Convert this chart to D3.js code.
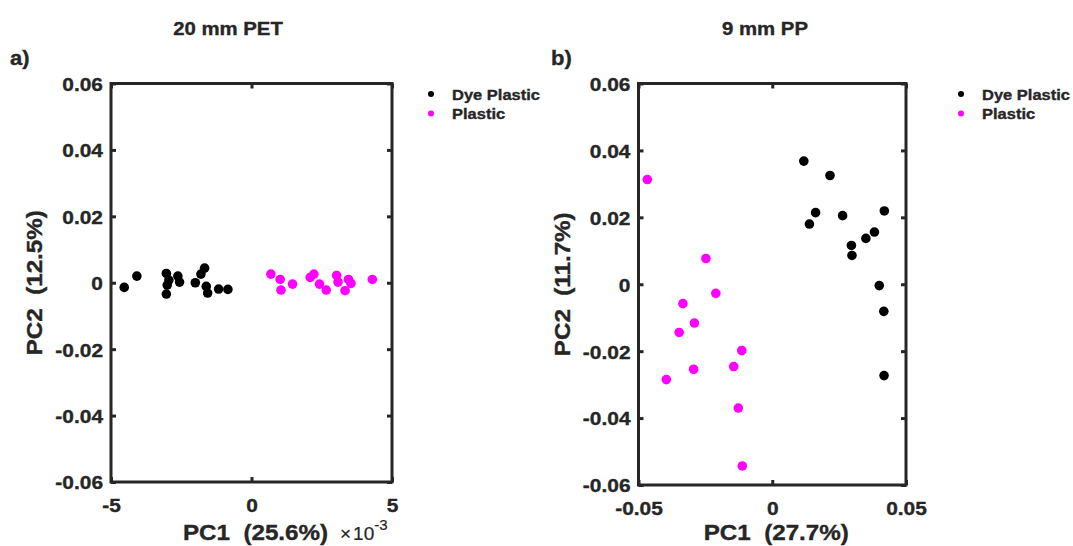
<!DOCTYPE html>
<html>
<head>
<meta charset="utf-8">
<script src="https://cdn.jsdelivr.net/npm/d3@7"></script>
<style>
  body { margin: 0; background: #fff; }
  text { font-family: "Liberation Sans", Arial, sans-serif; font-weight: bold; fill: #262626; stroke: #262626; stroke-width: 0.35px; white-space: pre; }
</style>
</head>
<body>
<div id="chart-area"></div>
<script>
// ---- data ----
// panel a) 20 mm PET, PC1 in units of 1e-3
var petDyeX = [-4.53, -4.08, -3.03, -2.94, -2.62, -2.56, -3.00, -3.03, -1.67, -1.80, -2.00, -1.61, -1.56, -1.17, -0.84];
var petDyeY = [-0.0014, 0.0020, 0.0028, 0.0008, 0.0020, 0.0002, -0.0007, -0.0034, 0.0044, 0.0026, 0.0000, -0.0011, -0.0031, -0.0019, -0.0020];
var petPlasticX = [0.69, 1.02, 1.05, 1.46, 2.22, 2.09, 2.42, 2.66, 3.03, 3.08, 3.45, 3.54, 3.33, 4.30];
var petPlasticY = [0.0026, 0.0010, -0.0022, -0.0004, 0.0026, 0.0016, -0.0004, -0.0022, 0.0022, 0.0002, 0.0010, -0.0002, -0.0024, 0.0010];

// panel b) 9 mm PP
var ppDyeX = [0.0118, 0.0216, 0.0162, 0.0139, 0.0263, 0.0419, 0.0296, 0.0298, 0.0350, 0.0382, 0.0400, 0.0417, 0.0418];
var ppDyeY = [0.0368, 0.0325, 0.0214, 0.0180, 0.0205, 0.0219, 0.0116, 0.0086, 0.0137, 0.0156, -0.0004, -0.0081, -0.0273];
var ppPlasticX = [-0.0467, -0.0248, -0.0211, -0.0334, -0.0291, -0.0348, -0.0114, -0.0294, -0.0144, -0.0396, -0.0127, -0.0112];
var ppPlasticY = [0.0313, 0.0077, -0.0027, -0.0058, -0.0116, -0.0144, -0.0198, -0.0254, -0.0246, -0.0285, -0.0370, -0.0543];

var yTicks = [-0.06, -0.04, -0.02, 0, 0.02, 0.04, 0.06];
var yTickLabels = ["-0.06", "-0.04", "-0.02", "0", "0.02", "0.04", "0.06"];
var petXTicks = [-5, 0, 5];
var petXTickLabels = ["-5", "0", "5"];
var ppXTicks = [-0.05, 0, 0.05];
var ppXTickLabels = ["-0.05", "0", "0.05"];

var legendNames = ["Dye Plastic", "Plastic"];
var colors = ["#000000", "#ff00ff"];

var width = 1073, height = 546;
var sx = 1.1; // text in the picture is a bit wider than Arial

var svg = d3.select("#chart-area").append("svg")
  .attr("width", width)
  .attr("height", height);

function zip(xs, ys) { return xs.map(function(d, i) { return [d, ys[i]]; }); }

// stretched text helper
function label(parent, x, y, txt, size, anchor, rot) {
  return parent.append("text")
    .attr("transform", "translate(" + x + "," + y + ")" + (rot ? " rotate(" + rot + ")" : "") + " scale(" + sx + ",1)")
    .attr("font-size", size + "px")
    .attr("text-anchor", anchor || "start")
    .text(txt);
}

function panel(opt) {
  var x = d3.scaleLinear().domain(opt.xDomain).range([opt.left, opt.right]);
  var y = d3.scaleLinear().domain([-0.06, 0.06]).range([opt.bottom, opt.top]);

  var g = svg.append("g");

  // ticks on all four sides, pointing inward
  var left = g.append("g").attr("transform", "translate(" + opt.left + ",0)")
    .call(d3.axisLeft(y).tickValues(yTicks).tickSize(-5).tickSizeOuter(0).tickPadding(8)
      .tickFormat(function(d, i) { return yTickLabels[i]; }));
  var bottom = g.append("g").attr("transform", "translate(0," + opt.bottom + ")")
    .call(d3.axisBottom(x).tickValues(opt.xTicks).tickSize(-5).tickSizeOuter(0)
      .tickFormat(function(d, i) { return opt.xTickLabels[i]; }));
  g.append("g").attr("transform", "translate(" + opt.right + ",0)")
    .call(d3.axisRight(y).tickValues(yTicks).tickSize(-5).tickSizeOuter(0).tickFormat(""));
  g.append("g").attr("transform", "translate(0," + opt.top + ")")
    .call(d3.axisTop(x).tickValues(opt.xTicks).tickSize(-5).tickSizeOuter(0).tickFormat(""));

  g.selectAll(".domain").remove();
  g.selectAll(".tick line").attr("stroke", "#262626").attr("stroke-width", 3);

  left.selectAll("text")
    .attr("x", null).attr("dy", "0.36em")
    .attr("transform", "translate(-8,0) scale(" + sx + ",1)")
    .attr("font-size", "19px").attr("font-family", null).attr("fill", "#262626");
  bottom.selectAll("text")
    .attr("y", null).attr("dy", null)
    .attr("transform", "translate(0,30) scale(" + sx + ",1)")
    .attr("font-size", "19px").attr("font-family", null).attr("fill", "#262626");

  // box
  g.append("rect")
    .attr("x", opt.left).attr("y", opt.top)
    .attr("width", opt.right - opt.left).attr("height", opt.bottom - opt.top)
    .attr("fill", "none").attr("stroke", "#262626").attr("stroke-width", 3);

  // points
  opt.series.forEach(function(s, k) {
    g.selectAll(null).data(s).enter().append("circle")
      .attr("cx", function(d) { return x(d[0]); })
      .attr("cy", function(d) { return y(d[1]); })
      .attr("r", 4.8)
      .attr("fill", colors[k]);
  });

  // titles and labels
  label(svg, opt.titleX, 35, opt.title, 18.5, "middle");
  label(svg, opt.tagX, 65, opt.tag, 20, "start");
  label(svg, (opt.left + opt.right) / 2 + 4, 540, opt.xLabel, 22, "middle");
  label(svg, opt.yLabelX, (opt.top + opt.bottom) / 2, opt.yLabel, 22, "middle", -90);

  // legend
  legendNames.forEach(function(name, i) {
    svg.append("circle")
      .attr("cx", opt.legendX).attr("cy", 94 + i * 19.5)
      .attr("r", 3).attr("fill", colors[i]);
    label(svg, opt.legendX + 21, 99.5 + i * 19.5, name, 15, "start");
  });

  return g;
}

panel({
  left: 111, right: 392, top: 83.5, bottom: 482,
  xDomain: [-5, 5], xTicks: petXTicks, xTickLabels: petXTickLabels,
  series: [zip(petDyeX, petDyeY), zip(petPlasticX, petPlasticY)],
  title: "20 mm PET", titleX: 228, tag: "a)", tagX: 10,
  xLabel: "PC1  (25.6%)", yLabel: "PC2  (12.5%)", yLabelX: 42,
  legendX: 431
});

panel({
  left: 638.5, right: 906, top: 83.5, bottom: 485,
  xDomain: [-0.05, 0.05], xTicks: ppXTicks, xTickLabels: ppXTickLabels,
  series: [zip(ppDyeX, ppDyeY), zip(ppPlasticX, ppPlasticY)],
  title: "9 mm PP", titleX: 765, tag: "b)", tagX: 551,
  xLabel: "PC1  (27.7%)", yLabel: "PC2  (11.7%)", yLabelX: 570,
  legendX: 961
});

// exponent label for panel a
var ex = svg.append("text")
  .attr("transform", "translate(340,540)")
  .style("font-weight", "normal").style("stroke-width", "0.2px")
  .attr("font-size", "19px");
ex.append("tspan").text("\u00d7");
ex.append("tspan").attr("dx", 2).text("10");
ex.append("tspan").attr("dy", -10).attr("font-size", "15px").text("-3");
</script>
</body>
</html>
